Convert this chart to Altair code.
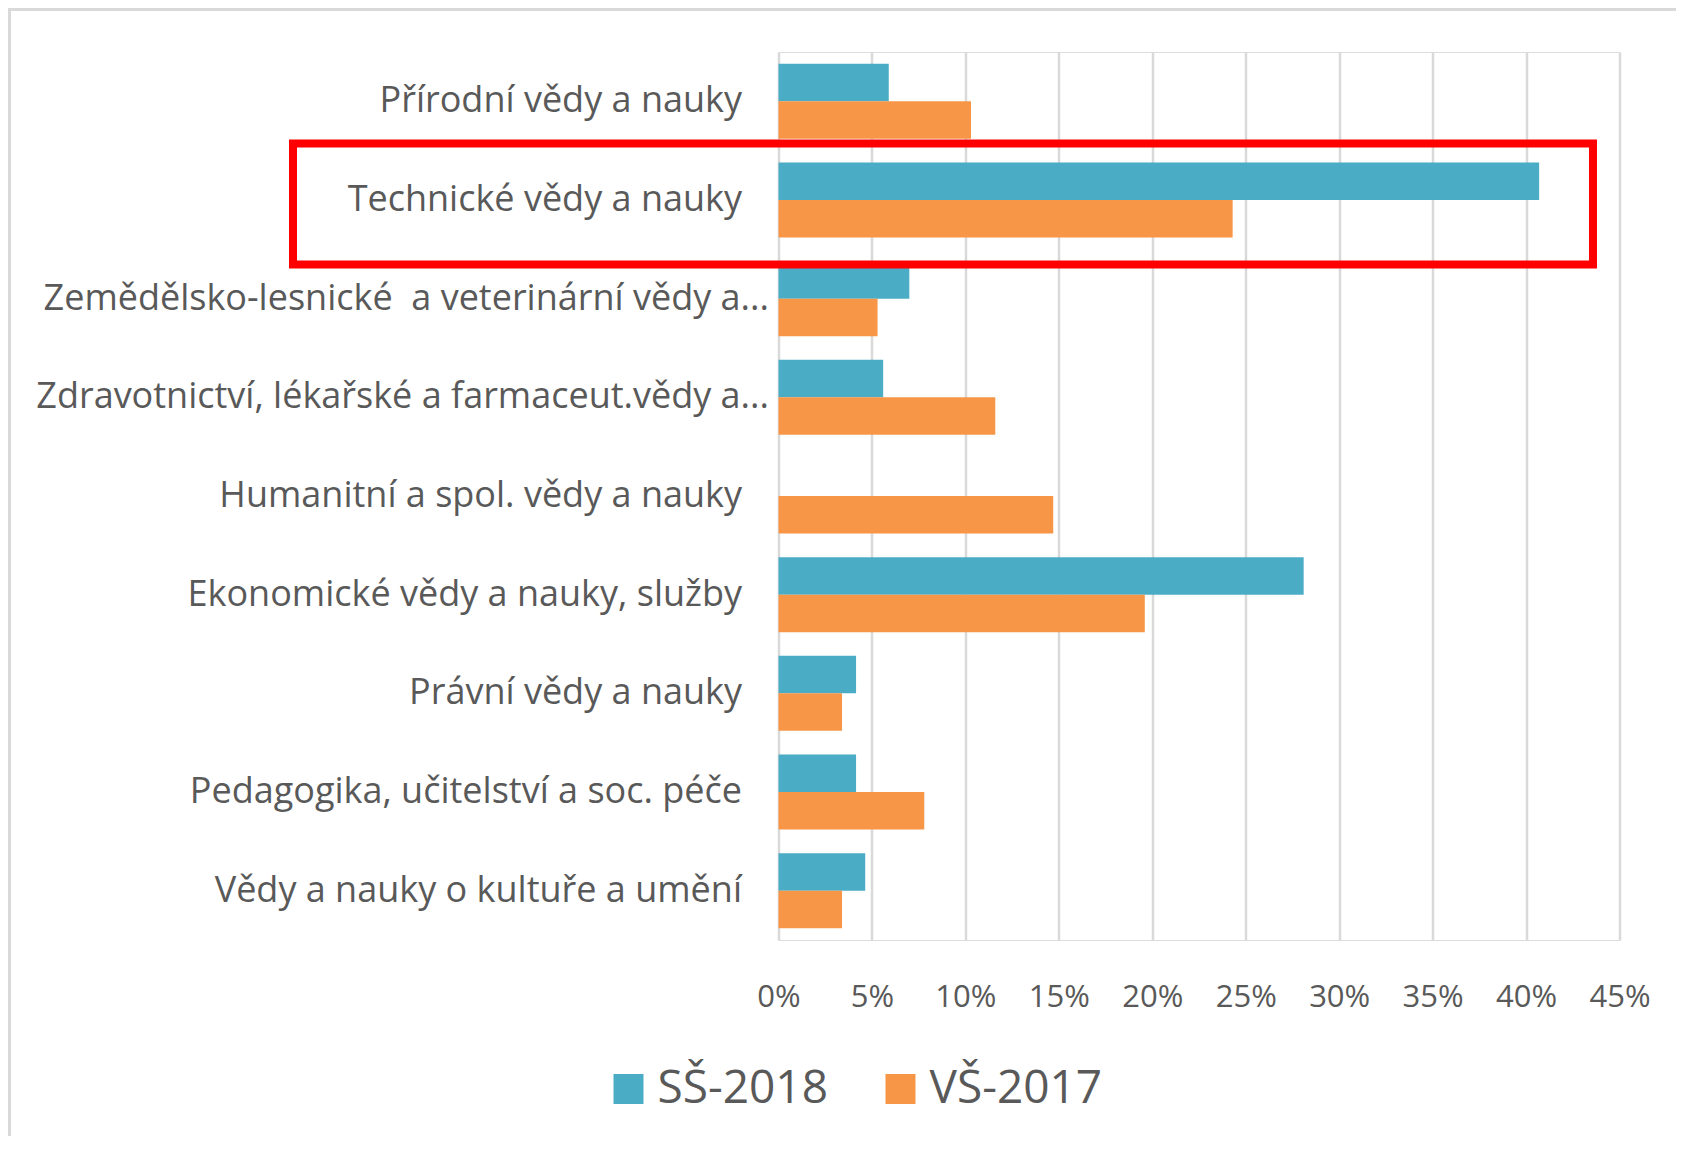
import altair as alt
import pandas as pd

categories = [
    "Přírodní vědy a nauky",
    "Technické vědy a nauky",
    "Zemědělsko-lesnické\u00a0 a veterinární vědy a...",
    "Zdravotnictví, lékařské a farmaceut.vědy a...",
    "Humanitní a spol. vědy a nauky",
    "Ekonomické vědy a nauky, služby",
    "Právní vědy a nauky",
    "Pedagogika, učitelství a soc. péče",
    "Vědy a nauky o kultuře a umění",
]
ss_2018 = [0.059, 0.407, 0.070, 0.056, 0.0, 0.281, 0.0415, 0.0415, 0.0464]
vs_2017 = [0.103, 0.243, 0.053, 0.116, 0.147, 0.196, 0.034, 0.078, 0.034]
series = ["SŠ-2018", "VŠ-2017"]
colors = ["#4BACC6", "#F79646"]
tick_values = [0, 0.05, 0.10, 0.15, 0.20, 0.25, 0.30, 0.35, 0.40, 0.45]
highlight = ["Technické vědy a nauky"]

rows = []
for c, a, b in zip(categories, ss_2018, vs_2017):
    rows.append({"category": c, "series": series[0], "value": a})
    rows.append({"category": c, "series": series[1], "value": b})
df = pd.DataFrame(rows)

W, H = 841, 888
FONT = "Open Sans"
TXT = "#595959"

bars = alt.Chart(df).mark_bar().encode(
    x=alt.X(
        "value:Q",
        scale=alt.Scale(domain=[0, 0.45], nice=False),
        axis=alt.Axis(
            values=tick_values, format=".0%", grid=True, gridColor="#D9D9D9",
            gridWidth=2.5, domain=False, ticks=False, title=None,
            labelFont=FONT, labelFontSize=31, labelColor=TXT, labelPadding=42,
            labelFlush=False, labelOverlap=False,
        ),
    ),
    y=alt.Y(
        "category:N", sort=categories,
        scale=alt.Scale(paddingInner=0.24, paddingOuter=0.12),
        axis=alt.Axis(
            title=None, domain=False, ticks=False,
            labelPadding={"condition": {"test": "indexof(datum.label, '...') >= 0", "value": 10}, "value": 37},
            labelLimit=1000, labelFont=FONT, labelFontSize=36, labelColor=TXT,
        ),
    ),
    yOffset=alt.YOffset("series:N", sort=series),
    color=alt.Color(
        "series:N",
        scale=alt.Scale(domain=series, range=colors),
        legend=alt.Legend(
            title=None, orient="none", legendX=-173, legendY=1014,
            direction="horizontal", symbolType="square", symbolSize=900,
            symbolStrokeWidth=0, symbolOpacity=1, labelFont=FONT,
            labelFontSize=46, labelColor=TXT, labelOffset=6, labelLimit=1000,
            columnPadding=49, padding=0,
        ),
    ),
)

hl = alt.Chart(pd.DataFrame({"category": highlight})).mark_bar(
    height=121, fillOpacity=0, stroke="#FF0000", strokeWidth=8, yOffset=4
).encode(
    x=alt.value(-485.5),
    x2=alt.value(814.5),
    y=alt.Y("category:N", sort=categories),
)

one = pd.DataFrame({"k": [0]})
left_border = alt.Chart(one).mark_rule(color="#D9D9D9", strokeWidth=3).encode(
    x=alt.value(-769), y=alt.value(-43), y2=alt.value(1200)
)
top_border = alt.Chart(one).mark_rule(color="#D9D9D9", strokeWidth=3).encode(
    y=alt.value(-42.5), x=alt.value(-770.5), x2=alt.value(1000)
)

chart = alt.layer(left_border, top_border, bars, hl).properties(
    width=W, height=H,
    autosize=alt.AutoSizeParams(type="none"),
    padding={"left": 770.5, "top": 44, "right": 56.5, "bottom": 196},
).configure_view(stroke=None).configure(background="white")

chart.save("out.html", embed_options={"renderer": "svg", "actions": False})
